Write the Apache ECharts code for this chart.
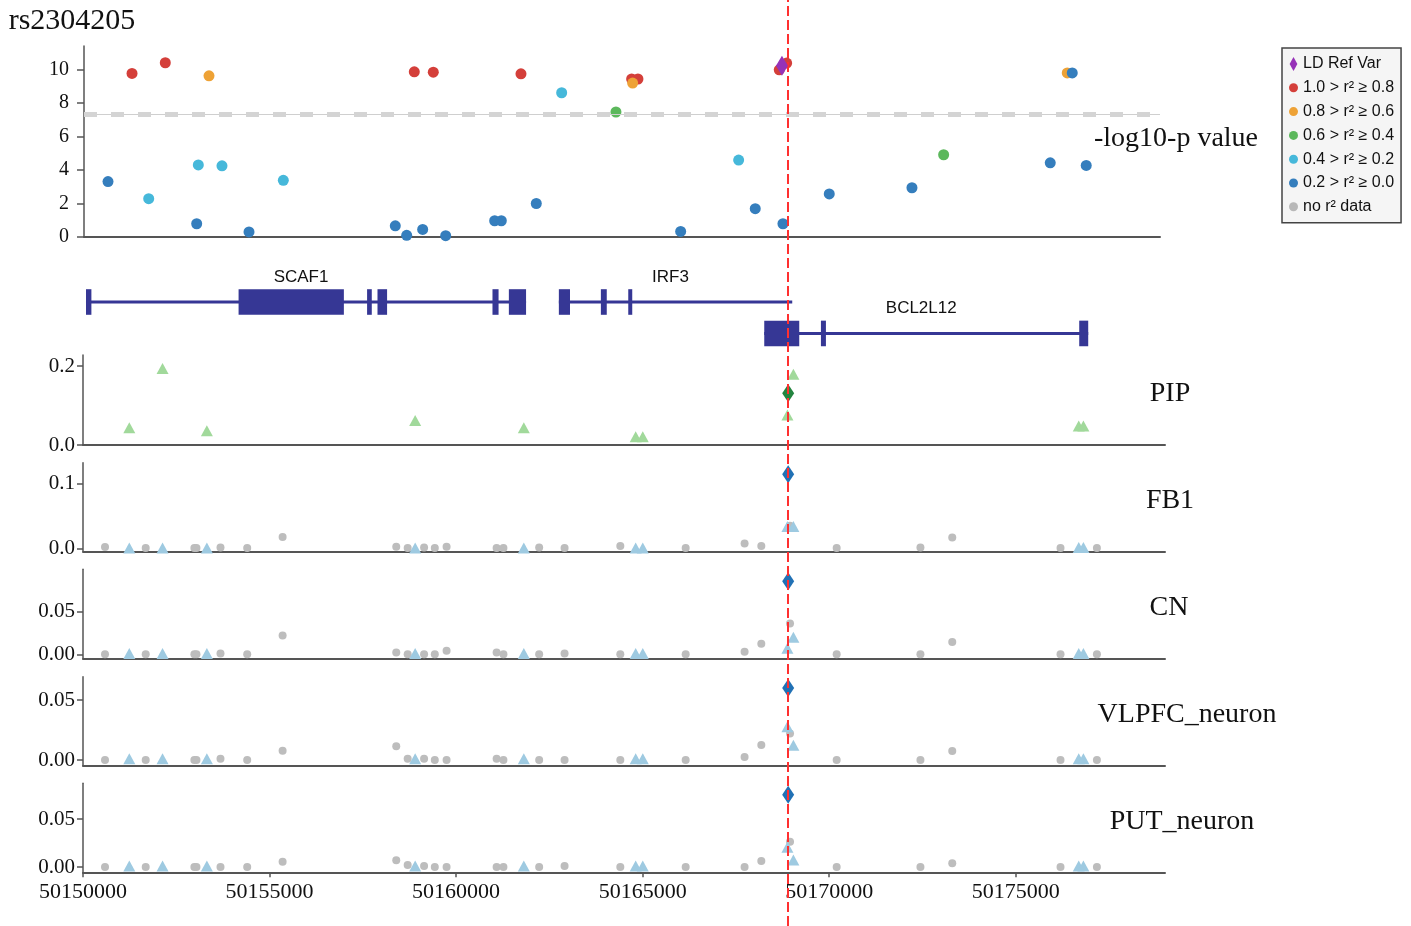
<!DOCTYPE html>
<html>
<head>
<meta charset="utf-8">
<title>rs2304205</title>
<script src="https://cdn.jsdelivr.net/npm/echarts@6.0.0/dist/echarts.min.js"></script>
<style>
html, body { margin: 0; padding: 0; background: #fff; }
#main { width: 1411px; height: 926px; }
</style>
</head>
<body>
<div id="main"></div>
<script>
var X_MIN = 50150000
var X_MAX = 50179000
var leadPos = 50168900

// top panel: [position, -log10 p] by LD bin
var ldRefVar = [[50168811, 10.22]]
var r2_08 = [[50151294, 9.76], [50152191, 10.4], [50158902, 9.86], [50159414, 9.84], [50161777, 9.74], [50164760, 9.43], [50168738, 9.98], [50164930, 9.43], [50168938, 10.38]]
var r2_06 = [[50153369, 9.62], [50164787, 9.19], [50176500, 9.79]]
var r2_04 = [[50164337, 7.46], [50173169, 4.91]]
var r2_02 = [[50151744, 2.29], [50153081, 4.3], [50153719, 4.25], [50155372, 3.38], [50162874, 8.61], [50167644, 4.59]]
var r2_00 = [[50150647, 3.31], [50153037, 0.79], [50154447, 0.3], [50158390, 0.67], [50158697, 0.1], [50159128, 0.45], [50159748, 0.08], [50161068, 0.97], [50161247, 0.97], [50162190, 2.0], [50166081, 0.33], [50168091, 1.69], [50168838, 0.79], [50170086, 2.57], [50172315, 2.94], [50176042, 4.43], [50176635, 9.79], [50177012, 4.27]]
var gwLine = 7.3

// genes
var geneNames = ['SCAF1', 'IRF3', 'BCL2L12']
var geneRow = [0, 0, 1]
var geneStart = [50150080, 50162754, 50168259]
var geneEnd = [50161875, 50169009, 50176942]
var geneExons = [
  [[50150080, 50150225], [50154170, 50156992], [50157614, 50157740], [50157893, 50158150], [50160975, 50161138], [50161414, 50161875]],
  [[50162754, 50163052], [50163880, 50164038], [50164614, 50164721]],
  [[50168259, 50169197], [50169778, 50169912], [50176701, 50176942]]
]

// lower panels
var panelNames = ['PIP', 'FB1', 'CN', 'VLPFC_neuron', 'PUT_neuron']
var grayPos = [50150590, 50151681, 50152985, 50153041, 50153685, 50154401, 50155350, 50158396, 50158702, 50159142, 50159429, 50159745, 50161086, 50161268, 50162226, 50162907, 50164401, 50166153, 50167732, 50168180, 50168950, 50170200, 50172445, 50173298, 50176200, 50177175]
var grayFB1 = [0.0026, 0.001, 0.001, 0.001, 0.002, 0.001, 0.018, 0.003, 0.001, 0.002, 0.001, 0.003, 0.001, 0.001, 0.002, 0.001, 0.004, 0.001, 0.008, 0.004, 0.035, 0.001, 0.002, 0.017, 0.001, 0.001]
var grayCN = [0, 0, 0, 0, 0.001, 0, 0.022, 0.002, 0, 0, 0, 0.004, 0.002, 0, 0, 0.001, 0, 0, 0.003, 0.0125, 0.036, 0, 0, 0.0144, 0, 0]
var grayVLPFC = [0, 0, 0, 0, 0.001, 0, 0.0078, 0.0114, 0.001, 0.001, 0, 0, 0.001, 0, 0, 0, 0, 0, 0.0025, 0.0125, 0.022, 0, 0, 0.0075, 0, 0]
var grayPUT = [0, 0, 0, 0, 0, 0, 0.0056, 0.007, 0.002, 0.001, 0, 0, 0, 0, 0, 0.001, 0, 0, 0, 0.0062, 0.0264, 0, 0, 0.0038, 0, 0]
var triPos = [50151241, 50152132, 50153320, 50158903, 50161815, 50164813, 50165003, 50168880, 50169040, 50176688, 50176813]
var triPIP = [0.044, 0.194, 0.036, 0.062, 0.044, 0.021, 0.021, 0.076, 0.179, 0.048, 0.048]
var triFB1 = [0.001, 0.001, 0.001, 0.001, 0.001, 0.001, 0.001, 0.034, 0.034, 0.002, 0.002]
var triCN = [0.001, 0.001, 0.001, 0.001, 0.001, 0.001, 0.001, 0.007, 0.02, 0.001, 0.001]
var triVLPFC = [0.001, 0.001, 0.001, 0.001, 0.001, 0.001, 0.001, 0.0278, 0.0122, 0.001, 0.001]
var triPUT = [0.001, 0.001, 0.001, 0.001, 0.001, 0.001, 0.001, 0.0205, 0.0073, 0.001, 0.001]
var leadVals = [0.131, 0.114, 0.0857, 0.060, 0.0753]
var panelYMin = [0, -0.004, -0.0052, -0.00475, -0.0055]
var panelYMax = [0.228, 0.1315, 0.0998, 0.0694, 0.0872]
var panelTicks = [[0, 0.2], [0, 0.1], [0, 0.05], [0, 0.05], [0, 0.05]]
var panelDigits = [1, 1, 2, 2, 2]
var topTicks = [0, 2, 4, 6, 8, 10]
var xTicks = [50150000, 50155000, 50160000, 50165000, 50170000, 50175000]

var LEGEND = ['LD Ref Var', '1.0 > r\u00b2 \u2265 0.8', '0.8 > r\u00b2 \u2265 0.6', '0.6 > r\u00b2 \u2265 0.4', '0.4 > r\u00b2 \u2265 0.2', '0.2 > r\u00b2 \u2265 0.0', 'no r\u00b2 data']
var LD_COLORS = ['#9632b8', '#d43f3a', '#eea236', '#5cb85c', '#46b8da', '#357ebd', '#b8b8b8']
var GENE = '#363795'
var SERIF = '"Liberation Serif", "Times New Roman", serif'
var SANS = '"Liberation Sans", Arial, sans-serif'
var AXIS = '#555'

var panelTop = [355, 462.7, 569.3, 676.7, 783.3]
var panelBottom = [445, 551.3, 658.7, 765.7, 872.3]

function zip(xs, ys) {
  return xs.map(function (x, i) { return [x, ys[i]] })
}

var grids = [
  { left: 84, width: 1076, top: 46, height: 191 },
  { left: 83, width: 1082, top: 268, height: 85 }
]
panelTop.forEach(function (t, i) {
  grids.push({ left: 83, width: 1082, top: t, height: panelBottom[i] - t })
})
grids.push({ left: 83, width: 1082, top: 0, height: 926 })

var xAxes = grids.map(function (g, i) {
  var isLast = i === 6
  var shown = i !== 1 && i !== 7
  return {
    type: 'value', gridIndex: i, min: X_MIN, max: X_MAX, show: shown,
    splitLine: { show: false },
    axisLine: { show: true, onZero: false, lineStyle: { color: AXIS, width: 2 } },
    axisTick: { show: isLast, length: 5, customValues: xTicks, lineStyle: { color: AXIS, width: 1.5 } },
    axisLabel: {
      show: isLast, customValues: xTicks, margin: 9,
      fontFamily: SERIF, fontSize: 22, color: '#111',
      formatter: function (v) { return String(v) }
    }
  }
})

var yAxes = [{
  type: 'value', gridIndex: 0, min: 0, max: 11.4,
  splitLine: { show: false },
  axisLine: { show: true, lineStyle: { color: AXIS, width: 1.5 } },
  axisTick: { show: true, length: 7, customValues: topTicks, lineStyle: { color: AXIS, width: 1.5 } },
  axisLabel: { customValues: topTicks, margin: 15, fontFamily: SERIF, fontSize: 20, color: '#111' }
}, {
  type: 'value', gridIndex: 1, min: 0, max: 1, show: false
}]
panelNames.forEach(function (n, i) {
  yAxes.push({
    type: 'value', gridIndex: i + 2, min: panelYMin[i], max: panelYMax[i],
    splitLine: { show: false },
    axisLine: { show: true, lineStyle: { color: AXIS, width: 1.5 } },
    axisTick: { show: true, length: 6, customValues: panelTicks[i], lineStyle: { color: AXIS, width: 1.5 } },
    axisLabel: {
      customValues: panelTicks[i], margin: 8, fontFamily: SERIF, fontSize: 21, color: '#111',
      formatter: function (v) { return Number(v).toFixed(panelDigits[i]) }
    }
  })
})
yAxes.push({ type: 'value', gridIndex: 7, min: 0, max: 1, show: false })

var series = []
// genome-wide significance line: thin solid under thick dashes
series.push({
  type: 'scatter', xAxisIndex: 0, yAxisIndex: 0, data: [], silent: true, z: 1,
  markLine: {
    silent: true, symbol: ['none', 'none'], label: { show: false },
    lineStyle: { color: '#cfcfcf', width: 1, type: 'solid' },
    data: [{ yAxis: gwLine }]
  }
})
series.push({
  type: 'scatter', xAxisIndex: 0, yAxisIndex: 0, data: [], silent: true, z: 1,
  markLine: {
    silent: true, symbol: ['none', 'none'], label: { show: false },
    lineStyle: { color: '#d4d4d4', width: 5, type: [13, 14] },
    data: [{ yAxis: gwLine }]
  }
})

var topBins = [ldRefVar, r2_08, r2_06, r2_04, r2_02, r2_00, []]
topBins.forEach(function (d, i) {
  series.push({
    name: LEGEND[i], type: 'scatter', xAxisIndex: 0, yAxisIndex: 0,
    data: d,
    symbol: i === 0 ? 'diamond' : 'circle',
    symbolSize: i === 0 ? [12, 20] : 11,
    itemStyle: { color: LD_COLORS[i], opacity: 1 },
    z: i === 0 ? 5 : 4
  })
})

series.push({
  type: 'custom', xAxisIndex: 1, yAxisIndex: 1,
  data: geneStart.map(function (s, i) { return [s, geneEnd[i], geneRow[i], i] }),
  encode: { x: [0, 1], y: 2 },
  renderItem: function (params, api) {
    var gi = api.value(3)
    var rowY = 0.6 - api.value(2) * 0.37
    var p0 = api.coord([api.value(0), rowY])
    var p1 = api.coord([api.value(1), rowY])
    var kids = [{
      type: 'rect',
      shape: { x: p0[0], y: p0[1] - 1.5, width: p1[0] - p0[0], height: 3 },
      style: { fill: GENE }
    }]
    geneExons[gi].forEach(function (e) {
      var a = api.coord([e[0], rowY])
      var b = api.coord([e[1], rowY])
      kids.push({
        type: 'rect',
        shape: { x: a[0], y: a[1] - 12.8, width: Math.max(b[0] - a[0], 3), height: 25.6 },
        style: { fill: GENE }
      })
    })
    kids.push({
      type: 'text', x: (p0[0] + p1[0]) / 2 - 5, y: p0[1] - 25,
      style: {
        text: geneNames[gi], fill: '#111', font: '17px ' + SANS,
        align: 'center', verticalAlign: 'middle', textAlign: 'center', textVerticalAlign: 'middle'
      }
    })
    return { type: 'group', children: kids }
  }
})

var grayVals = [null, grayFB1, grayCN, grayVLPFC, grayPUT]
var triVals = [triPIP, triFB1, triCN, triVLPFC, triPUT]
panelNames.forEach(function (n, i) {
  var gi = i + 2
  if (grayVals[i]) {
    series.push({
      name: 'no r\u00b2 data', type: 'scatter', xAxisIndex: gi, yAxisIndex: gi,
      data: zip(grayPos, grayVals[i]), symbol: 'circle', symbolSize: 8,
      itemStyle: { color: '#bdbdbd', opacity: 1 }, z: 2
    })
  }
  series.push({
    name: n + ' credible', type: 'scatter', xAxisIndex: gi, yAxisIndex: gi,
    data: zip(triPos, triVals[i]), symbol: 'triangle', symbolSize: [12, 11],
    itemStyle: { color: i === 0 ? '#a1d99b' : '#9ecae1', opacity: 1 }, z: 3
  })
  series.push({
    name: n + ' lead', type: 'scatter', xAxisIndex: gi, yAxisIndex: gi,
    data: [[leadPos, leadVals[i]]], symbol: 'diamond', symbolSize: [12, 18],
    itemStyle: { color: i === 0 ? '#23843f' : '#2171b5', opacity: 1 }, z: 4
  })
})

series.push({
  type: 'scatter', xAxisIndex: 7, yAxisIndex: 7, data: [], silent: true,
  markLine: {
    silent: true, symbol: ['none', 'none'], label: { show: false },
    lineStyle: { color: '#ff3030', width: 2, type: [10, 4] },
    data: [{ xAxis: leadPos }]
  },
  z: 20
})

function txt(s, x, y, size) {
  return {
    type: 'text', x: x, y: y, z: 30,
    style: {
      text: s, fill: '#111', font: size + 'px ' + SERIF,
      align: 'center', verticalAlign: 'middle', textAlign: 'center', textVerticalAlign: 'middle'
    }
  }
}

var myChart = echarts.init(document.getElementById('main'))
myChart.setOption({
  animation: false,
  backgroundColor: '#fff',
  grid: grids,
  xAxis: xAxes,
  yAxis: yAxes,
  legend: {
    data: LEGEND.map(function (n, i) {
      return { name: n, icon: i === 0 ? 'path://M5,0L10,9L5,18L0,9Z' : 'circle' }
    }),
    orient: 'vertical', left: 1282, top: 48,
    itemWidth: 9, itemHeight: 14, itemGap: 7.8,
    padding: [8, 7, 8, 7],
    backgroundColor: '#f5f5f5', borderColor: '#444', borderWidth: 1.5,
    selectedMode: false,
    textStyle: { fontFamily: SANS, fontSize: 16, color: '#111', lineHeight: 16 }
  },
  graphic: [
    txt('rs2304205', 72, 21, 30),
    txt('-log10-p value', 1176, 139, 28),
    txt(panelNames[0], 1170, 394, 28),
    txt(panelNames[1], 1170, 501, 28),
    txt(panelNames[2], 1169, 608, 28),
    txt(panelNames[3], 1187, 715, 28),
    txt(panelNames[4], 1182, 822, 28)
  ],
  series: series
})
</script>
</body>
</html>
